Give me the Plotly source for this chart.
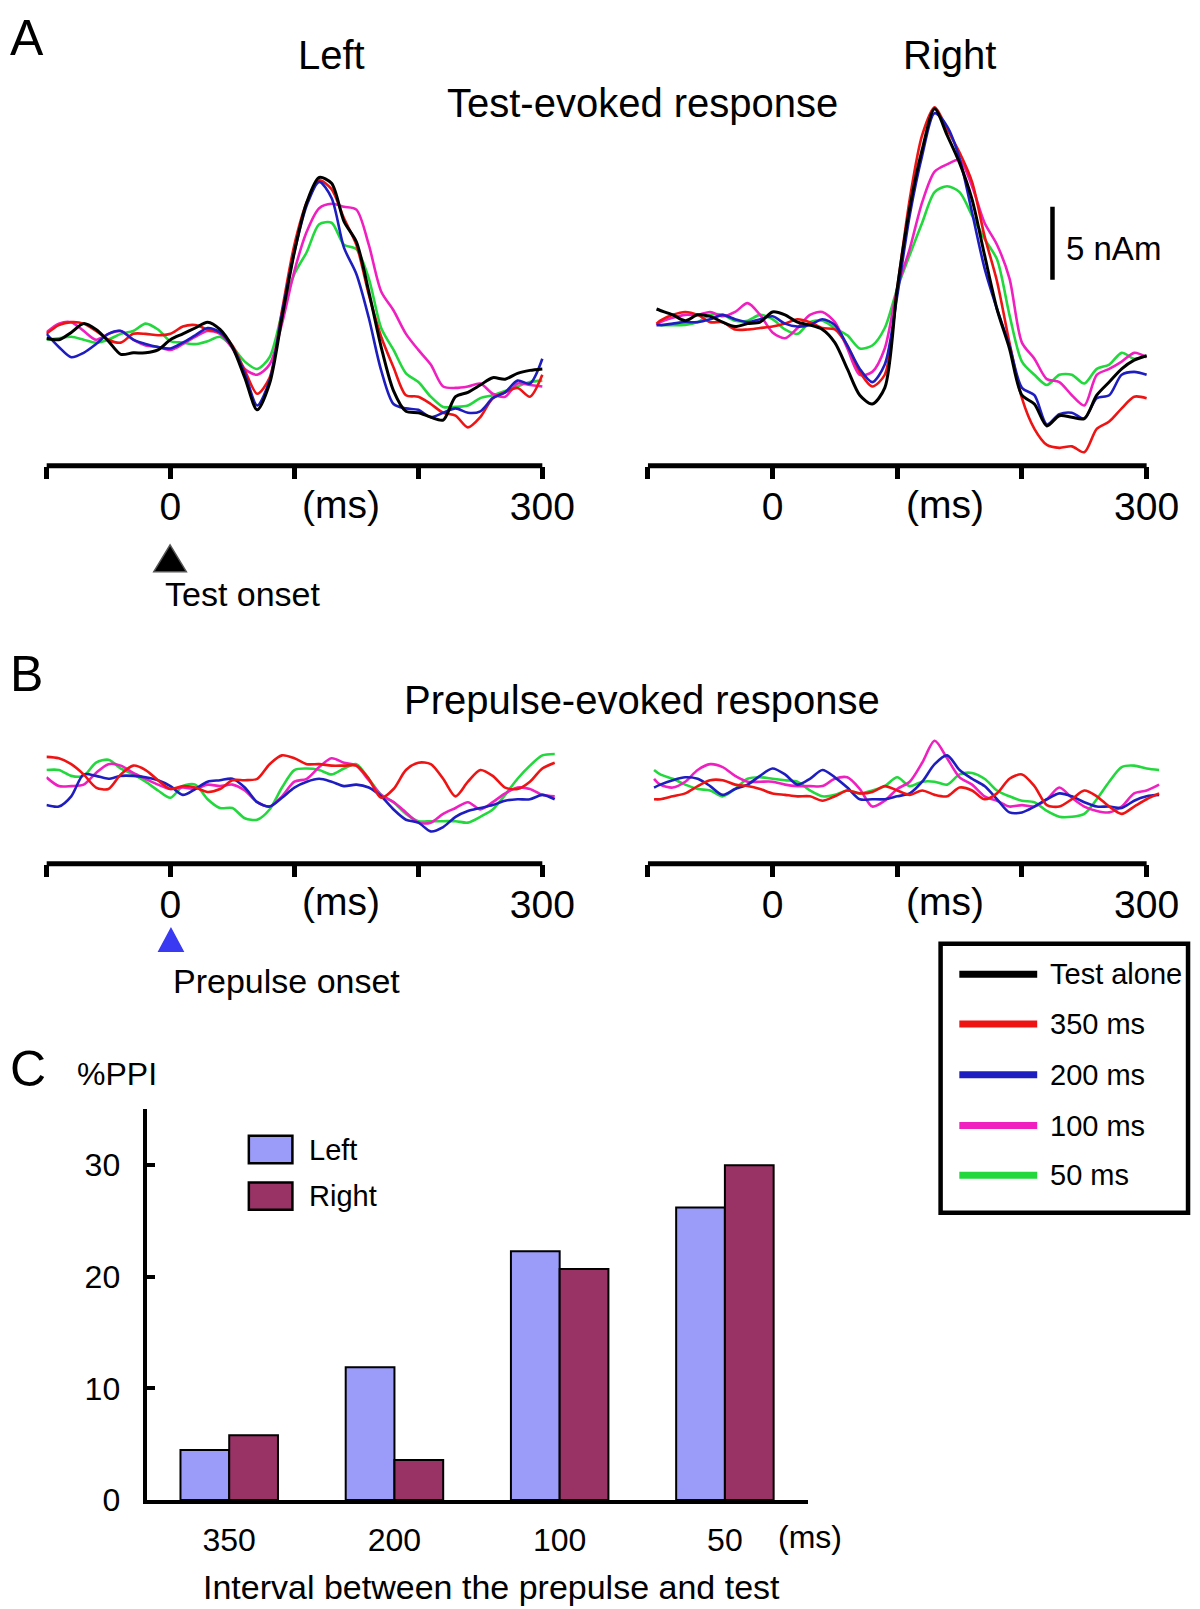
import plotly.graph_objects as go

# ---------------- data ----------------
t_A = [-100, -90, -80, -70, -60, -50, -40, -30, -20, -10, 0, 10, 20, 30, 40, 50, 60, 70, 80, 90,
       100, 110, 120, 130, 140, 150, 160, 170, 180, 190, 200, 210, 220, 230, 240, 250, 260, 270, 280, 290, 300]
t_AR = [-93, -90, -80, -70, -60, -50, -40, -30, -20, -10, 0, 10, 20, 30, 40, 50, 60, 70, 80, 90,
        100, 110, 120, 130, 140, 150, 160, 170, 180, 190, 200, 210, 220, 230, 240, 250, 260, 270, 280, 290, 300]

# Panel A, Left hemisphere (nAm)
AL_black = [-0.3, -0.4, 0.1, 0.7, 0.3, -0.5, -1.4, -1.3, -1.3, -1.1, -0.4, 0.0, 0.4, 0.8, 0.3, -0.9, -3.0, -5.2, -3.4, 1.1,
            5.6, 9.0, 10.7, 10.3, 7.7, 6.3, 2.9, -0.9, -3.9, -5.3, -5.4, -5.7, -5.9, -4.3, -4.0, -3.5, -3.0, -3.1, -2.7, -2.5, -2.4]
AL_red = [0.0, 0.6, 0.8, 0.7, 0.2, -0.4, -0.6, 0.0, 0.0, -0.1, 0.0, 0.5, 0.6, 0.3, 0.1, -0.8, -2.5, -4.1, -3.0, 1.6,
          6.1, 9.0, 10.5, 9.9, 7.9, 6.1, 2.7, -0.2, -2.3, -4.2, -4.3, -4.8, -5.4, -5.6, -6.4, -5.7, -4.4, -4.0, -3.7, -4.3, -2.8]
AL_blue = [0.0, -0.9, -1.6, -1.3, -0.7, 0.0, 0.2, -0.4, -0.7, -0.9, -1.0, -0.6, -0.1, 0.4, 0.1, -0.9, -2.7, -4.9, -3.2, 1.4,
           5.6, 8.8, 10.4, 9.3, 5.9, 4.1, 1.1, -2.5, -4.8, -5.1, -5.2, -5.7, -5.4, -5.1, -5.4, -5.3, -4.4, -4.0, -3.2, -3.4, -1.7]
AL_mag = [0.1, 0.7, 0.8, 0.2, -0.4, 0.0, 0.2, -0.4, -0.8, -0.9, -1.1, -0.7, -0.2, 0.2, 0.0, -1.0, -2.4, -2.8, -2.1, 0.7,
          4.3, 7.0, 8.6, 8.9, 8.7, 8.5, 6.1, 2.9, 1.6, 0.0, -1.1, -2.1, -3.6, -3.7, -3.6, -3.4, -4.1, -4.3, -3.4, -3.5, -3.6]
AL_green = [-0.4, -0.3, -0.2, -0.4, -0.6, -0.4, 0.0, 0.2, 0.7, 0.3, -0.5, -0.6, -0.7, -0.5, -0.2, -0.9, -1.9, -2.4, -1.6, 1.4,
            4.1, 5.6, 7.5, 7.6, 6.1, 5.8, 3.8, 0.4, -1.1, -2.7, -3.3, -4.3, -5.0, -5.0, -4.9, -4.4, -4.2, -3.9, -3.6, -3.3, -3.2]

# Panel A, Right hemisphere (nAm)
AR_black = [1.7, 1.6, 1.3, 0.9, 1.3, 1.2, 0.8, 0.5, 0.7, 0.8, 1.5, 1.3, 0.8, 0.6, 0.3, -0.6, -2.4, -4.2, -4.8, -3.7,
            3.1, 8.6, 12.6, 15.4, 13.6, 11.7, 9.2, 5.4, 1.7, -1.0, -4.2, -4.8, -6.3, -5.6, -5.7, -5.8, -4.2, -3.3, -2.4, -1.8, -1.5]
AR_red = [0.7, 0.9, 1.3, 1.5, 1.3, 0.8, 0.8, 0.3, 0.3, 0.4, 0.5, 0.7, 1.0, 0.8, 0.4, 0.3, -0.8, -2.6, -3.6, -2.8,
          3.1, 9.2, 13.6, 15.5, 14.0, 12.4, 10.4, 6.7, 3.6, -0.6, -4.4, -6.5, -7.6, -7.8, -7.7, -8.1, -6.5, -6.0, -5.1, -4.3, -4.4]
AR_blue = [0.6, 0.6, 0.7, 0.8, 0.8, 1.0, 1.3, 1.0, 0.8, 1.0, 1.2, 0.7, 0.5, 0.6, 1.0, 0.6, -0.8, -2.4, -3.3, -2.1,
           2.6, 8.1, 12.2, 15.1, 14.2, 12.0, 8.3, 4.5, 1.7, -0.8, -3.7, -4.2, -6.2, -5.5, -5.4, -5.8, -4.4, -4.2, -2.8, -2.6, -2.8]
AR_mag = [0.6, 0.8, 1.1, 1.3, 1.3, 1.5, 1.2, 1.5, 2.1, 1.3, 0.1, -0.3, 0.4, 1.3, 1.5, 0.8, -1.0, -2.8, -2.6, -1.0,
          3.1, 5.8, 9.0, 11.1, 11.6, 11.9, 10.1, 7.6, 6.1, 3.8, -0.6, -1.7, -3.1, -3.3, -4.2, -4.9, -2.8, -2.4, -1.9, -1.3, -1.6]
AR_green = [0.7, 0.6, 0.6, 0.6, 0.8, 1.3, 1.3, 0.9, 0.9, 1.3, 1.0, 0.3, 0.0, 0.8, 0.9, 0.4, -0.1, -1.0, -0.8, 0.4,
            3.1, 5.4, 7.6, 9.7, 10.1, 9.7, 8.1, 6.5, 5.1, 1.3, -1.9, -2.8, -3.5, -2.8, -2.8, -3.4, -2.4, -2.1, -1.3, -1.7, -1.5]

# Panel B (prepulse-evoked), nAm
t_BL = [-100, -90, -80, -70, -60, -50, -40, -30, -20, -10, 0, 10, 20, 30, 40, 50, 60, 70, 80, 90,
        100, 110, 120, 130, 140, 150, 160, 170, 180, 190, 200, 210, 220, 230, 240, 250, 260, 270, 280, 290, 300, 310]
t_BR = [-95, -90, -80, -70, -60, -50, -40, -30, -20, -10, 0, 10, 20, 30, 40, 50, 60, 70, 80, 90,
        100, 110, 120, 130, 140, 150, 160, 170, 180, 190, 200, 210, 220, 230, 240, 250, 260, 270, 280, 290, 300, 310]
BL_red = [2.1, 2.0, 1.6, 0.9, 0.0, -0.1, 0.9, 1.5, 1.2, 0.5, -0.1, 0.1, 0.0, -0.3, -0.1, 0.5, 0.5, 0.6, 1.6, 2.2,
          2.0, 1.6, 1.6, 1.5, 1.5, 1.5, 0.6, -0.7, -0.1, 1.2, 1.7, 1.6, 0.6, -0.6, 0.4, 1.2, 0.8, 0.0, -0.1, 0.4, 1.3, 1.7]
BL_green = [1.2, 1.2, 0.8, 0.8, 1.7, 1.9, 1.3, 0.9, 0.4, -0.2, -0.7, 0.1, 0.2, -0.8, -1.4, -1.4, -2.1, -2.2, -1.5, 0.0,
            1.2, 1.3, 1.2, 0.9, 1.3, 1.6, 0.6, -0.5, -1.0, -1.8, -2.3, -2.3, -2.3, -2.3, -2.4, -2.0, -1.5, -0.5, 0.6, 1.5, 2.2, 2.3]
BL_mag = [0.7, 0.1, 0.1, 0.2, 1.0, 1.6, 1.5, 1.0, 0.6, 0.2, -0.1, 0.0, -0.1, 0.2, 0.1, 0.2, -0.2, -1.0, -1.3, -0.6,
          0.4, 0.6, 1.4, 2.0, 1.7, 1.5, 0.5, -0.5, -1.0, -1.7, -2.4, -2.4, -1.8, -1.4, -1.0, -1.5, -1.0, -0.4, 0.0, -0.1, -0.5, -0.6]
BL_blue = [-1.2, -1.3, -0.6, 0.9, 0.8, 0.6, 0.8, 0.8, 0.7, 0.5, 0.1, -0.5, -0.1, 0.4, 0.5, 0.6, 0.0, -1.0, -1.3, -0.7,
           0.0, 0.4, 0.6, 0.4, 0.1, 0.2, 0.0, -0.6, -1.5, -2.2, -2.4, -3.0, -2.7, -2.0, -1.6, -1.4, -1.2, -0.9, -0.8, -0.8, -0.5, -0.8]
BR_green = [1.2, 0.9, 0.6, 0.2, -0.1, -0.2, -0.6, -0.1, 0.6, 0.7, 0.6, 0.5, 0.4, -0.2, -0.6, -0.5, -0.2, -0.4, -0.2, 0.1,
            0.7, 0.1, 0.4, 0.4, 0.2, 0.9, 1.0, 0.6, -0.2, -0.6, -0.9, -1.0, -1.6, -2.0, -2.0, -1.8, -0.8, 0.4, 1.4, 1.5, 1.3, 1.2]
BR_mag = [0.6, 0.2, 0.0, 0.4, 1.2, 1.6, 1.4, 0.8, 0.4, 0.4, 0.4, 0.2, 0.1, 0.1, 0.1, 0.6, 0.7, -0.1, -1.3, -0.9,
          -0.1, 0.4, 1.7, 3.2, 2.0, 0.7, 0.2, -0.6, -0.9, -1.3, -1.2, -1.3, -0.8, 0.0, -0.7, -1.3, -1.6, -1.7, -1.3, -0.4, -0.2, 0.2]
BR_blue = [0.0, 0.2, 0.5, 0.7, 0.6, 0.1, -0.5, -0.1, 0.2, 0.8, 1.3, 0.9, 0.2, 0.6, 1.2, 0.7, 0.0, -0.8, -0.8, -0.8,
           -0.6, -0.4, 0.4, 1.6, 2.2, 1.2, 0.6, 0.1, -0.8, -1.7, -1.7, -1.3, -0.8, -0.4, -0.6, -1.0, -1.3, -1.3, -1.4, -0.9, -0.6, -0.5]
BR_red = [-0.8, -0.8, -0.6, -0.4, 0.1, 0.5, 0.5, 0.2, 0.1, -0.1, -0.4, -0.5, -0.6, -0.6, -0.9, -0.6, -0.2, -0.4, -0.3, 0.1,
          -0.2, -0.5, -0.2, -0.5, -0.6, 0.0, -0.2, -0.8, -0.4, 0.6, 0.9, 0.1, -1.2, -1.3, -0.8, -0.2, -0.6, -1.3, -1.8, -1.3, -0.8, -0.4]

# Panel C: %PPI
intervals = ["350", "200", "100", "50"]
ppi_left = [4.5, 11.9, 22.3, 26.2]
ppi_right = [5.8, 3.6, 20.7, 30.0]

time_ticks = [-100, 0, 100, 200, 300]
time_ticktext = ["", "0", "", "", "300"]
ppi_ticks = [0, 10, 20, 30]

condition_names = ["Test alone", "350 ms", "200 ms", "100 ms", "50 ms"]

# ---------------- style ----------------
W, H = 1200, 1609
FONT = "'Liberation Sans', Arial, Helvetica, sans-serif"
COLORS = {"Test alone": "#000000", "350 ms": "#EE1414", "200 ms": "#1E1EC0",
          "100 ms": "#F020C0", "50 ms": "#22D83C"}
LEFT_BAR = "#9B9BFA"
RIGHT_BAR = "#993366"


def fx(p):
    return p / W


def fy(p):
    return 1 - p / H


fig = go.Figure()


def add_wave(x, y, name, xa, ya, width=2.6):
    fig.add_trace(go.Scatter(x=x, y=y, mode="lines", name=name, showlegend=False,
                             line=dict(color=COLORS[name], width=width, shape="spline", smoothing=0.8),
                             xaxis=xa, yaxis=ya, hoverinfo="skip"))


# Panel A left
add_wave(t_A, AL_green, "50 ms", "x", "y")
add_wave(t_A, AL_mag, "100 ms", "x", "y")
add_wave(t_A, AL_red, "350 ms", "x", "y")
add_wave(t_A, AL_blue, "200 ms", "x", "y")
add_wave(t_A, AL_black, "Test alone", "x", "y", 3.0)
# Panel A right
add_wave(t_AR, AR_green, "50 ms", "x2", "y2")
add_wave(t_AR, AR_mag, "100 ms", "x2", "y2")
add_wave(t_AR, AR_red, "350 ms", "x2", "y2")
add_wave(t_AR, AR_blue, "200 ms", "x2", "y2")
add_wave(t_AR, AR_black, "Test alone", "x2", "y2", 3.0)
# Panel B left
add_wave(t_BL, BL_green, "50 ms", "x3", "y3")
add_wave(t_BL, BL_mag, "100 ms", "x3", "y3")
add_wave(t_BL, BL_blue, "200 ms", "x3", "y3")
add_wave(t_BL, BL_red, "350 ms", "x3", "y3")
# Panel B right
add_wave(t_BR, BR_green, "50 ms", "x4", "y4")
add_wave(t_BR, BR_mag, "100 ms", "x4", "y4")
add_wave(t_BR, BR_blue, "200 ms", "x4", "y4")
add_wave(t_BR, BR_red, "350 ms", "x4", "y4")

# Panel C bars
fig.add_trace(go.Bar(x=intervals, y=ppi_left, name="Left", marker=dict(color=LEFT_BAR, line=dict(color="black", width=2)),
                     xaxis="x5", yaxis="y5", showlegend=False))
fig.add_trace(go.Bar(x=intervals, y=ppi_right, name="Right", marker=dict(color=RIGHT_BAR, line=dict(color="black", width=2)),
                     xaxis="x5", yaxis="y5", showlegend=False))

# ---------------- axes ----------------
XL = (39, 542)    # pixel span of -100..300 ms, left panels
XR = (649, 1155)  # right panels
T_MAX = 312


def wave_xaxis(span, anchor):
    ppm = (span[1] - span[0]) / 400.0
    right = span[0] + (T_MAX + 100) * ppm
    return dict(domain=[fx(span[0]), fx(right)], range=[-100, T_MAX], anchor=anchor,
                showline=False, ticks="outside", ticklen=12, tickwidth=5, tickcolor="black",
                tickvals=time_ticks, ticktext=time_ticktext, ticklabelstandoff=-6,
                tickfont=dict(size=39, family=FONT, color="black"),
                showgrid=False, zeroline=False, fixedrange=True)


A_BOT, A_TOP = 463.0, 91.0
B_BOT, B_TOP = 865.4, 718.0
A_RANGE = [-9.03, 16.14]
B_RANGE = [-5.21, 4.76]


def wave_yaxis(bot, top, rng, anchor):
    return dict(domain=[fy(bot), fy(top)], range=rng, anchor=anchor, visible=False, fixedrange=True)


shapes = []
# axis lines spanning -100..300 ms
for xa, bot in (("x", A_BOT), ("x2", A_BOT), ("x3", B_BOT), ("x4", B_BOT)):
    shapes.append(dict(type="line", xref=xa, yref="paper", x0=-100, x1=300, y0=fy(bot), y1=fy(bot),
                       line=dict(color="black", width=5)))

# scale bar: 5 nAm on the right A panel
shapes.append(dict(type="line", xref="x2", yref="y2", x0=224.5, x1=224.5, y0=3.7, y1=8.7,
                   line=dict(color="black", width=4.5)))


def tri(cx, top, bot, half, fill, outline):
    path = "M {:.5f},{:.5f} L {:.5f},{:.5f} L {:.5f},{:.5f} Z".format(
        fx(cx), fy(top), fx(cx - half), fy(bot), fx(cx + half), fy(bot))
    return dict(type="path", xref="paper", yref="paper", path=path, fillcolor=fill,
                line=dict(color=outline, width=1.5))


shapes.append(tri(164.4, 543, 570, 16.5, "#000000", "#555555"))
shapes.append(tri(165.3, 931, 954, 12.3, "#3A3AF2", "#3A3AF2"))

# legend for waveforms
LEG = dict(x0=946.0, x1=1197.0, y0=946.4, y1=1218.5)
shapes.append(dict(type="rect", xref="paper", yref="paper", x0=fx(LEG["x0"]), x1=fx(LEG["x1"]),
                   y0=fy(LEG["y1"]), y1=fy(LEG["y0"]), line=dict(color="black", width=4.5),
                   fillcolor="rgba(0,0,0,0)"))
leg_rows = [977.2, 1027.6, 1078.9, 1130.2, 1180.5]
annotations = []
for name, yy in zip(condition_names, leg_rows):
    shapes.append(dict(type="line", xref="paper", yref="paper", x0=fx(965), x1=fx(1044), y0=fy(yy), y1=fy(yy),
                       line=dict(color=COLORS[name], width=7)))
    annotations.append(dict(text=name, x=fx(1055), y=fy(yy), xref="paper", yref="paper", showarrow=False,
                            xanchor="left", yanchor="middle", font=dict(size=29, family=FONT, color="black")))

# legend for bars
for name, col, y0, y1, ty in (("Left", LEFT_BAR, 1140.5, 1168.2, 1155.0), ("Right", RIGHT_BAR, 1187.7, 1215.4, 1201.0)):
    shapes.append(dict(type="rect", xref="paper", yref="paper", x0=fx(244.3), x1=fx(288.5), y0=fy(y1), y1=fy(y0),
                       fillcolor=col, line=dict(color="black", width=2.5)))
    annotations.append(dict(text=name, x=fx(303), y=fy(ty), xref="paper", yref="paper", showarrow=False,
                            xanchor="left", yanchor="middle", font=dict(size=29, family=FONT, color="black")))


def ann(text, x, y, size, xanchor="center", yanchor="middle", xref="paper"):
    annotations.append(dict(text=text, x=(x if xref != "paper" else fx(x)), y=fy(y), xref=xref, yref="paper",
                            showarrow=False, xanchor=xanchor, yanchor=yanchor,
                            font=dict(size=size, family=FONT, color="black")))


ann("A", 0, 0, 50, xanchor="left", yanchor="top")
ann("Left", 328.5, 48, 40)
ann("Right", 954.7, 48, 40)
ann("Test-evoked response", 643.6, 96.5, 40)
ann("5 nAm", 1071, 243, 33, xanchor="left")
ann("(ms)", 138, 502, 39, xref="x")
ann("(ms)", 138, 502, 39, xref="x2")
ann("Test onset", 157, 593, 34, xanchor="left")
ann("B", 0, 674, 50, xanchor="left")
ann("Prepulse-evoked response", 643.6, 700, 40)
ann("(ms)", 138, 904, 39, xref="x3")
ann("(ms)", 138, 904, 39, xref="x4")
ann("Prepulse onset", 165, 984, 34, xanchor="left")
ann("C", 0, 1073, 50, xanchor="left")
ann("%PPI", 68, 1078.5, 32, xanchor="left")
ann("(ms)", 814, 1546, 32)
ann("Interval between the prepulse and test", 490.7, 1597, 34)

C_L, C_R = 140.6, 811.0
C_BOT, C_TOP = 1509.0, 1113.8

fig.update_layout(
    width=W, height=H, autosize=False,
    margin=dict(l=0, r=0, t=0, b=0),
    paper_bgcolor="white", plot_bgcolor="rgba(0,0,0,0)",
    font=dict(family=FONT, color="black"),
    showlegend=False,
    barmode="group", bargap=0.41, bargroupgap=0.0,
    xaxis=wave_xaxis(XL, "y"), yaxis=wave_yaxis(A_BOT, A_TOP, A_RANGE, "x"),
    xaxis2=wave_xaxis(XR, "y2"), yaxis2=wave_yaxis(A_BOT, A_TOP, A_RANGE, "x2"),
    xaxis3=wave_xaxis(XL, "y3"), yaxis3=wave_yaxis(B_BOT, B_TOP, B_RANGE, "x3"),
    xaxis4=wave_xaxis(XR, "y4"), yaxis4=wave_yaxis(B_BOT, B_TOP, B_RANGE, "x4"),
    xaxis5=dict(domain=[fx(C_L), fx(C_R)], range=[-0.5, 3.5], anchor="y5", type="category",
                categoryorder="array", categoryarray=intervals,
                showline=True, linecolor="black", linewidth=4, ticks="", ticklabelstandoff=8,
                tickfont=dict(size=32, family=FONT, color="black"), showgrid=False, zeroline=False,
                fixedrange=True),
    yaxis5=dict(domain=[fy(C_BOT), fy(C_TOP)], range=[0, 35], anchor="x5",
                showline=True, linecolor="black", linewidth=4, ticks="inside", ticklen=8, tickwidth=4,
                tickcolor="black", tickvals=ppi_ticks, ticklabelstandoff=16,
                tickfont=dict(size=32, family=FONT, color="black"), showgrid=False, zeroline=False,
                fixedrange=True),
    shapes=shapes,
    annotations=annotations,
)

fig.write_html("out.html")
